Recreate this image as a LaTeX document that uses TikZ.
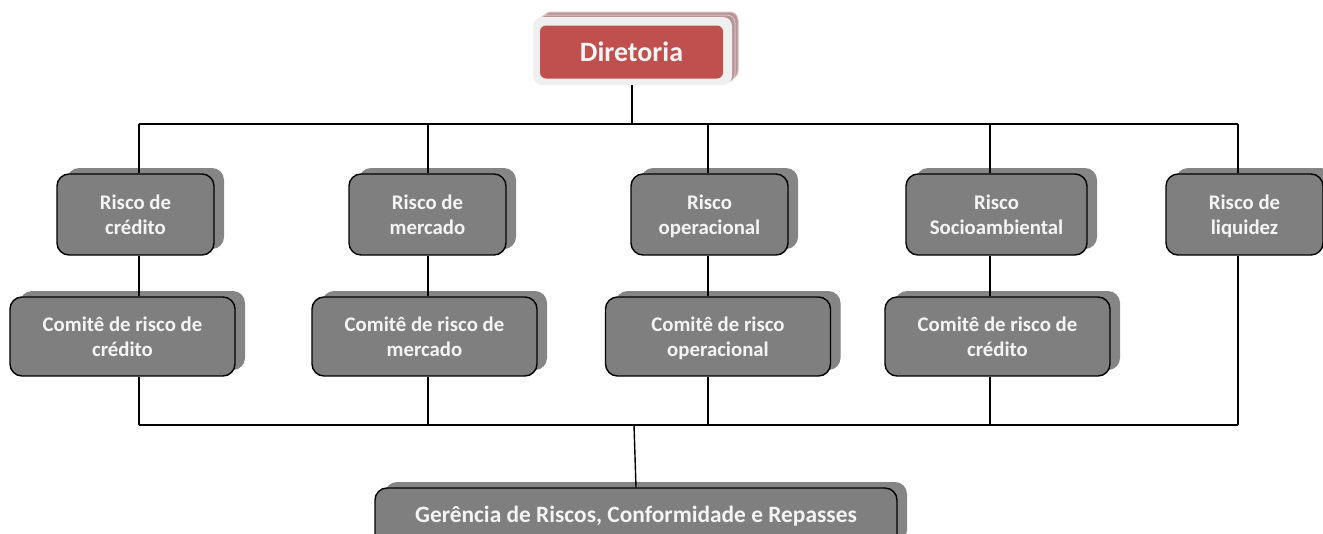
\documentclass[tikz,border=0pt]{standalone}
\usepackage{fontspec}
\setmainfont{Carlito}
\usetikzlibrary{shadows}
\definecolor{boxgray}{HTML}{7F7F7F}
\definecolor{shadowgray}{HTML}{858585}
\definecolor{dirred}{HTML}{C0504D}
\definecolor{rose}{HTML}{B89496}
\definecolor{roseedge}{HTML}{D9C3C4}
\definecolor{frame}{HTML}{EFEFEF}
\definecolor{txt}{HTML}{F4F4F4}
\newcommand{\lsa}{\rule{0pt}{18.5pt}}
\newcommand{\ls}{\vphantom{dp}}
\begin{document}
\begin{tikzpicture}[x=1pt,y=-1pt,
  gbox/.style={draw=black, line width=1.4pt, fill=boxgray, rounded corners=12pt,
    text=txt, font=\fontsize{20.8}{25}\selectfont\bfseries, align=center, inner sep=0pt,
    drop shadow={shadow xshift=10pt, shadow yshift=6pt, fill=shadowgray, opacity=1}},
  lvA/.style={gbox, minimum width=157pt, minimum height=81pt},
  lvB/.style={gbox, minimum width=225pt, minimum height=79pt},
  conn/.style={draw=black, line width=1.4pt}]
\useasboundingbox (0,0) rectangle (1323,533);

% junction coordinates
\coordinate (j0) at (632,124);
\coordinate (t1) at (139,124);
\coordinate (t2) at (428,124);
\coordinate (t3) at (708,124);
\coordinate (t4) at (990,124);
\coordinate (t5) at (1238,124);
\coordinate (b1) at (139,425);
\coordinate (b2) at (428,425);
\coordinate (b3) at (708,425);
\coordinate (b4) at (990,425);
\coordinate (b5) at (1238,425);
\coordinate (bm) at (634,425);

% Diretoria
\fill[rose, draw=roseedge, line width=1pt, rounded corners=8pt] (543,12) rectangle (738,79);
\fill[rose, draw=roseedge, line width=1pt, rounded corners=8pt] (539,15) rectangle (735,82);
\node[fill=frame, rounded corners=9pt, minimum width=199pt, minimum height=68pt, inner sep=0pt] (dir) at (632.5,51) {};
\node[fill=dirred, rounded corners=6pt, minimum width=183pt, minimum height=53pt, inner sep=0pt,
  text=txt, font=\fontsize{28}{32}\selectfont\bfseries] (dirin) at (631.5,52) {Diretoria};

% level 1
\node[lvA] (r1) at (135.5,214.5) {\lsa Risco de\\\ls crédito};
\node[lvA] (r2) at (427.5,214.5) {\lsa Risco de\\\ls mercado};
\node[lvA] (r3) at (709.5,214.5) {\lsa Risco\\\ls operacional};
\node[lvA, minimum width=181pt] (r4) at (996.5,214.5) {\lsa Risco\\\ls Socioambiental};
\node[lvA] (r5) at (1244.5,214.5) {\lsa Risco de\\\ls liquidez};

% level 2
\node[lvB] (c1) at (122.5,336.5) {\lsa Comitê de risco de\\\ls crédito};
\node[lvB] (c2) at (424.5,336.5) {\lsa Comitê de risco de\\\ls mercado};
\node[lvB] (c3) at (718,336.5) {\lsa Comitê de risco\\\ls operacional};
\node[lvB] (c4) at (997.5,336.5) {\lsa Comitê de risco de\\\ls crédito};

% bottom
\node[gbox, minimum width=522pt, minimum height=60pt] (g) at (636,518) {};
\node[text=txt, font=\fontsize{23.4}{28}\selectfont\bfseries] (gt) at (636,516) {Gerência de Riscos, Conformidade e Repasses};

% connectors
\draw[conn] (j0 |- dir.south) -- (j0);
\draw[conn] (t1) -- (t5);
\foreach \i in {1,...,5} { \draw[conn] (t\i) -- (t\i |- r\i.north); }
\foreach \i in {1,...,4} {
  \draw[conn] (t\i |- r\i.south) -- (t\i |- c\i.north);
  \draw[conn] (t\i |- c\i.south) -- (b\i);
}
\draw[conn] (t5 |- r5.south) -- (b5);
\draw[conn] (b1) -- (b5);
\draw[conn] (bm) -- (g.north);
\end{tikzpicture}
\end{document}
